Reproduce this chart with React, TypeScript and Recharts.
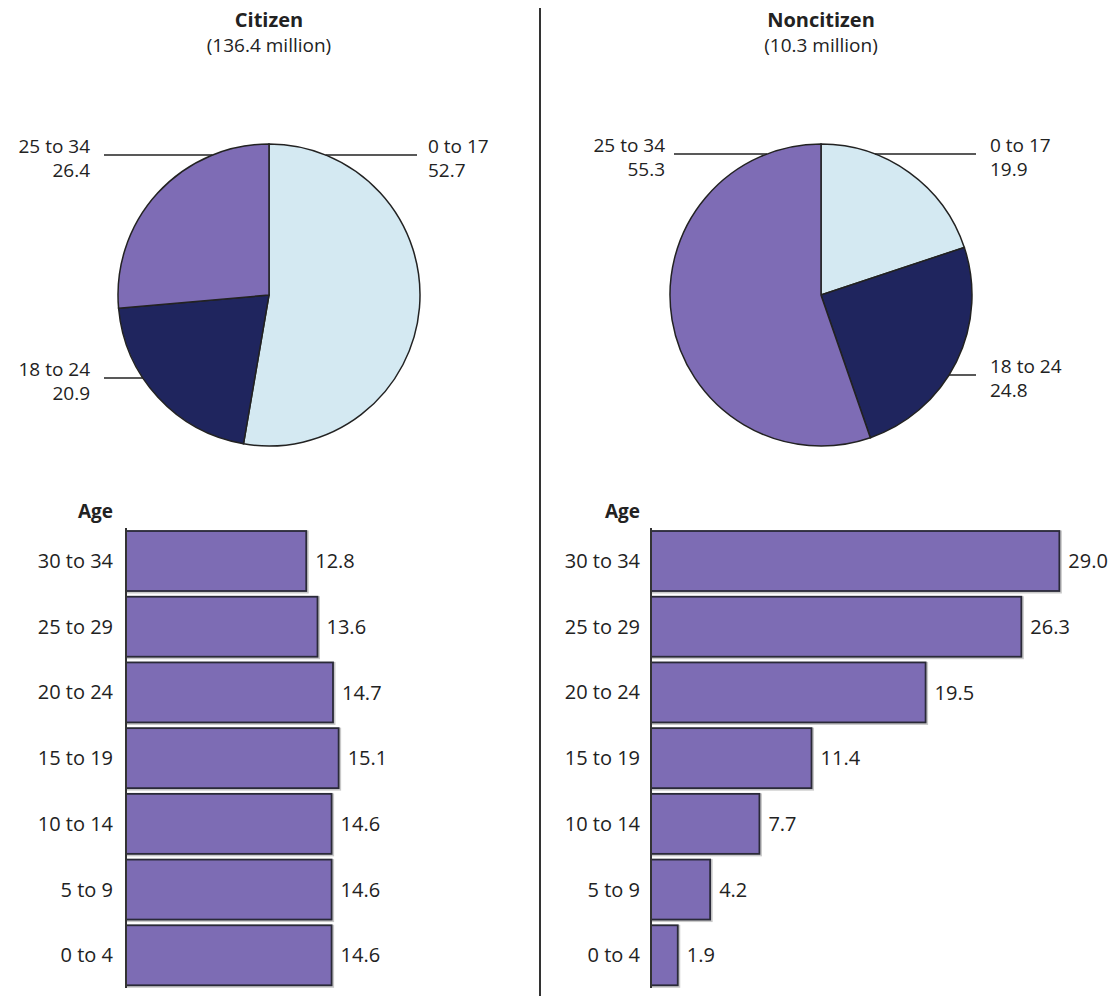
import React from "react";
import { PieChart, Pie, Cell, BarChart, Bar, XAxis, YAxis, LabelList } from "recharts";

const FONT = "'Open Sans', 'DejaVu Sans', sans-serif";
const INK = "#222";

// pie data
const pieGroups = ["0 to 17", "18 to 24", "25 to 34"];
const citizenPie = [52.7, 20.9, 26.4];
const noncitizenPie = [19.9, 24.8, 55.3];
const pieColors = ["#D4E9F2", "#1F255E", "#7E6CB5"];

// bar data, top to bottom
const ageGroups = ["30 to 34", "25 to 29", "20 to 24", "15 to 19", "10 to 14", "5 to 9", "0 to 4"];
const citizenBars = [12.8, 13.6, 14.7, 15.1, 14.6, 14.6, 14.6];
const noncitizenBars = [29.0, 26.3, 19.5, 11.4, 7.7, 4.2, 1.9];

// where each pie callout sits, relative to the pie centre
const citizenCallouts = [
  { side: "right", dy: -140, lineDx: 148, textDx: 159 },
  { side: "left", dy: 83, lineDx: -165, textDx: -179 },
  { side: "left", dy: -140, lineDx: -165, textDx: -179 },
];
const noncitizenCallouts = [
  { side: "right", dy: -141, lineDx: 155, textDx: 169 },
  { side: "right", dy: 80, lineDx: 155, textDx: 169 },
  { side: "left", dy: -141, lineDx: -147, textDx: -156 },
];

const makeCallout = (layout: any[]) => (props: any) => {
  const { cx, cy, outerRadius, index, value, name } = props;
  const c = layout[index];
  const y = cy + c.dy;
  const half = Math.sqrt(Math.max(outerRadius * outerRadius - c.dy * c.dy, 0));
  const edge = c.side === "right" ? cx + half : cx - half;
  const x2 = cx + c.lineDx;
  const tx = cx + c.textDx;
  const anchor = c.side === "right" ? "start" : "end";
  return (
    <g key={`callout-${index}`}>
      <line x1={edge} y1={y} x2={x2} y2={y} stroke={INK} strokeWidth={1.5} />
      <text x={tx} y={y - 2} textAnchor={anchor} fill={INK} fontFamily={FONT} fontSize={19}>
        {name}
      </text>
      <text x={tx} y={y + 22} textAnchor={anchor} fill={INK} fontFamily={FONT} fontSize={19}>
        {Number(value).toFixed(1)}
      </text>
    </g>
  );
};

const BarShape = (props: any) => {
  const { x, y, width, height } = props;
  return (
    <g>
      <rect x={x + 1} y={y + 1} width={width} height={height} fill="none" stroke="#c9c9c9" strokeWidth={3} />
      <rect x={x} y={y} width={width} height={height} fill="#7D6CB4" stroke="#2a2a38" strokeWidth={1.8} />
    </g>
  );
};

function Panel({
  left,
  width,
  pieCx,
  title,
  subtitle,
  pieValues,
  callouts,
  bars,
  axisWidth,
  tickGap,
  rightMargin,
}: any) {
  const pieData = pieGroups.map((g, i) => ({ name: g, value: pieValues[i] }));
  const barData = ageGroups.map((g, i) => ({ age: g, value: bars[i] }));
  return (
    <div style={{ position: "absolute", left, top: 0, width, height: 996 }}>
      <div style={{ position: "absolute", left: pieCx - 150, width: 300, top: 7, textAlign: "center", fontWeight: 700, fontSize: 20, lineHeight: "26px", color: INK }}>
        {title}
      </div>
      <div style={{ position: "absolute", left: pieCx - 150, width: 300, top: 32, textAlign: "center", fontSize: 19, lineHeight: "26px", color: INK }}>
        {subtitle}
      </div>
      <div style={{ position: "absolute", left: 0, top: 0 }}>
        <PieChart width={width} height={480} margin={{ top: 0, right: 0, bottom: 0, left: 0 }}>
          <Pie
            data={pieData}
            dataKey="value"
            nameKey="name"
            cx={pieCx}
            cy={295}
            outerRadius={151}
            startAngle={90}
            endAngle={-270}
            stroke={INK}
            strokeWidth={1.5}
            labelLine={false}
            label={makeCallout(callouts)}
            isAnimationActive={false}
          >
            {pieData.map((d, i) => (
              <Cell key={d.name} fill={pieColors[i]} />
            ))}
          </Pie>
        </PieChart>
      </div>
      <div style={{ position: "absolute", left: 0, width: axisWidth - tickGap, top: 498, textAlign: "right", fontWeight: 700, fontSize: 19, lineHeight: "26px", color: INK }}>
        Age
      </div>
      <div style={{ position: "absolute", left: 0, top: 480 }}>
        <BarChart
          layout="vertical"
          data={barData}
          width={width}
          height={516}
          margin={{ top: 48, right: rightMargin, bottom: 8, left: 0 }}
          barCategoryGap={3}
        >
          <XAxis type="number" hide domain={[0, 29.4]} />
          <YAxis
            type="category"
            dataKey="age"
            width={axisWidth}
            tickLine={false}
            tickSize={0}
            tickMargin={tickGap}
            axisLine={{ stroke: "#333", strokeWidth: 2 }}
            tick={{ fill: INK, fontSize: 20, fontFamily: FONT }}
            interval={0}
          />
          <Bar dataKey="value" shape={BarShape} isAnimationActive={false}>
            <LabelList
              dataKey="value"
              position="right"
              offset={9}
              formatter={(v: any) => Number(v).toFixed(1)}
              fill={INK}
              fontSize={20}
              fontFamily={FONT}
            />
          </Bar>
        </BarChart>
      </div>
    </div>
  );
}

export default function App() {
  return (
    <div
      style={{
        position: "absolute",
        left: 0,
        top: 0,
        width: 1120,
        height: 996,
        background: "#fff",
        fontFamily: FONT,
        overflow: "hidden",
      }}
    >
      <Panel
        left={0}
        width={540}
        pieCx={269}
        title="Citizen"
        subtitle="(136.4 million)"
        pieValues={citizenPie}
        callouts={citizenCallouts}
        bars={citizenBars}
        axisWidth={126}
        tickGap={13}
        rightMargin={0}
      />
      <div style={{ position: "absolute", left: 539, top: 8, width: 2, height: 988, background: "#333" }} />
      <Panel
        left={540}
        width={580}
        pieCx={281}
        title="Noncitizen"
        subtitle="(10.3 million)"
        pieValues={noncitizenPie}
        callouts={noncitizenCallouts}
        bars={noncitizenBars}
        axisWidth={111}
        tickGap={11}
        rightMargin={55}
      />
    </div>
  );
}
